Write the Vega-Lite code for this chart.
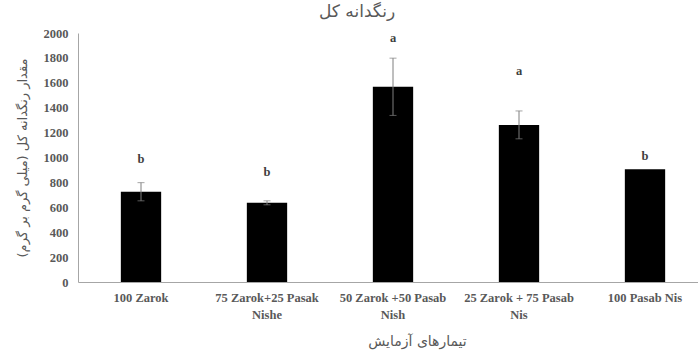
{
  "$schema": "https://vega.github.io/schema/vega-lite/v6.json",
  "autosize": "none",
  "width": 620,
  "height": 249,
  "padding": {"left": 78, "top": 33, "right": 0, "bottom": 70},
  "background": "white",
  "title": {
    "text": "رنگدانه کل",
    "font": "DejaVu Sans",
    "fontSize": 17,
    "fontWeight": "normal",
    "color": "#595959",
    "anchor": "start",
    "frame": "group",
    "dx": 241,
    "offset": 6
  },
  "config": {
    "view": {"stroke": null},
    "axis": {"grid": false, "domainColor": "#a6a6a6", "ticks": false},
    "axisY": {
      "format": "d",
      "labelOverlap": false,
      "titleFont": "DejaVu Sans",
      "titleFontSize": 13,
      "titleFontWeight": "normal",
      "titleColor": "#595959",
      "titlePadding": 14,
      "labelFont": "Liberation Serif",
      "labelFontSize": 12.5,
      "labelFontWeight": "bold",
      "labelColor": "#595959",
      "labelPadding": 10
    }
  },
  "data": {
    "values": [
      {"treatment": "100 Zarok", "mean": 725, "sd": 73, "letter": "b", "letterY": 985},
      {"treatment": "75 Zarok+25 Pasak Nishe", "mean": 636, "sd": 16, "letter": "b", "letterY": 880},
      {"treatment": "50 Zarok +50 Pasab Nish", "mean": 1568, "sd": 230, "letter": "a", "letterY": 1962},
      {"treatment": "25 Zarok + 75 Pasab Nis", "mean": 1262, "sd": 112, "letter": "a", "letterY": 1696},
      {"treatment": "100  Pasab Nis", "mean": 905, "sd": 0, "letter": "b", "letterY": 1010}
    ]
  },
  "encoding": {
    "x": {
      "field": "treatment",
      "type": "nominal",
      "sort": null,
      "scale": {"range": [0, 630], "paddingInner": 0.68, "paddingOuter": 0.34},
      "axis": {
        "title": "تیمارهای آزمایش",
        "titleFont": "DejaVu Sans",
        "titleFontSize": 14,
        "titleFontWeight": "normal",
        "titleColor": "#595959",
        "titleX": 339,
        "titlePadding": 14,
        "labelAngle": 0,
        "labelFont": "Liberation Serif",
        "labelFontSize": 12.5,
        "labelFontWeight": "bold",
        "labelColor": "#595959",
        "labelPadding": 9,
        "labelLineHeight": 17,
        "labelExpr": "length(datum.label) > 15 ? [substring(datum.label, 0, lastindexof(datum.label, ' ')), substring(datum.label, lastindexof(datum.label, ' ') + 1)] : datum.label"
      }
    }
  },
  "layer": [
    {
      "mark": {"type": "bar", "color": "#000000"},
      "encoding": {
        "y": {
          "field": "mean",
          "type": "quantitative",
          "scale": {"domain": [0, 2000]},
          "title": "مقدار رنگدانه کل (میلی گرم بر گرم)",
          "axis": {"values": [0, 200, 400, 600, 800, 1000, 1200, 1400, 1600, 1800, 2000]}
        }
      }
    },
    {
      "transform": [{"filter": "datum.sd > 0"}],
      "mark": {"type": "errorbar", "ticks": {"size": 7, "color": "#7f7f7f"}, "rule": {"color": "#7f7f7f", "strokeWidth": 1}},
      "encoding": {
        "y": {
          "field": "mean",
          "type": "quantitative",
          "title": "مقدار رنگدانه کل (میلی گرم بر گرم)",
          "axis": {"values": [0, 200, 400, 600, 800, 1000, 1200, 1400, 1600, 1800, 2000]}
        },
        "yError": {"field": "sd"}
      }
    },
    {
      "mark": {"type": "text", "font": "Liberation Serif", "fontSize": 12.5, "fontWeight": "bold", "color": "#404040", "baseline": "middle"},
      "encoding": {
        "y": {
          "field": "letterY",
          "type": "quantitative",
          "title": "مقدار رنگدانه کل (میلی گرم بر گرم)",
          "axis": {"values": [0, 200, 400, 600, 800, 1000, 1200, 1400, 1600, 1800, 2000]}
        },
        "text": {"field": "letter"}
      }
    }
  ]
}
